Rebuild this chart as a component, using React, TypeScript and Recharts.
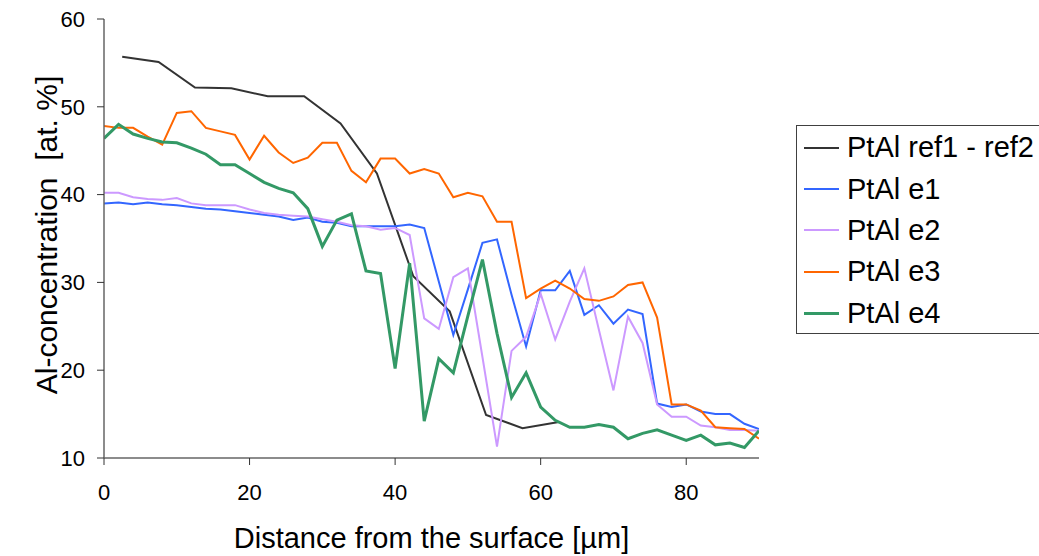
import React from 'react'
import { LineChart, Line, XAxis, YAxis, Legend, Label } from 'recharts'

// distances (µm) of the measured points
const distance = [
  0, 2, 4, 6, 8, 10, 12, 14, 16, 18, 20, 22, 24, 26, 28, 30, 32, 34, 36, 38, 40, 42, 44,
  46, 48, 50, 52, 54, 56, 58, 60, 62, 64, 66, 68, 70, 72, 74, 76, 78, 80, 82, 84, 86, 88, 90,
]
const refDistance = [2.5, 7.5, 12.5, 17.5, 22.5, 27.5, 32.5, 37.5, 42.5, 47.5, 52.5, 57.5, 62.5]

// Al concentration [at. %]
const ref = [55.7, 55.1, 52.2, 52.1, 51.2, 51.2, 48.1, 42.4, 30.7, 26.7, 14.9, 13.4, 14.1]
const e1 = [
  39.0, 39.1, 38.9, 39.1, 38.9, 38.8, 38.6, 38.4, 38.3, 38.1, 37.9, 37.7, 37.5, 37.1, 37.4, 36.9,
  36.8, 36.4, 36.4, 36.4, 36.4, 36.6, 36.2, 30.1, 24.0, 29.2, 34.5, 34.9, 28.6, 22.7, 29.1, 29.1,
  31.3, 26.3, 27.4, 25.3, 26.9, 26.4, 16.2, 15.8, 16.1, 15.3, 15.0, 15.0, 13.9, 13.3,
]
const e2 = [
  40.2, 40.2, 39.7, 39.5, 39.4, 39.6, 39.0, 38.8, 38.8, 38.8, 38.3, 37.9, 37.7, 37.6, 37.5, 37.2,
  36.9, 36.5, 36.4, 36.0, 36.2, 35.4, 25.9, 24.7, 30.6, 31.6, 21.5, 11.3, 22.2, 23.8, 28.7, 23.5,
  27.8, 31.6, 24.6, 17.7, 26.1, 23.1, 16.1, 14.7, 14.7, 13.7, 13.5, 13.2, 13.2, 13.1,
]
const e3 = [
  47.8, 47.6, 47.6, 46.6, 45.7, 49.3, 49.5, 47.6, 47.2, 46.8, 44.0, 46.7, 44.8, 43.6, 44.2, 45.9,
  45.9, 42.7, 41.4, 44.1, 44.1, 42.4, 42.9, 42.4, 39.7, 40.2, 39.8, 36.9, 36.9, 28.2, 29.3, 30.2,
  29.3, 28.1, 27.9, 28.4, 29.7, 30.0, 26.0, 16.1, 16.1, 15.4, 13.5, 13.4, 13.3, 12.2,
]
const e4 = [
  46.4, 48.0, 46.9, 46.4, 46.0, 45.9, 45.3, 44.6, 43.4, 43.4, 42.4, 41.4, 40.7, 40.2, 38.4, 34.1,
  37.1, 37.8, 31.3, 31.0, 20.2, 32.2, 14.2, 21.3, 19.7, 26.2, 32.6, 24.2, 16.9, 19.7, 15.8, 14.3,
  13.5, 13.5, 13.8, 13.5, 12.2, 12.8, 13.2, 12.6, 12.0, 12.6, 11.5, 11.7, 11.2, 13.1,
]

const xTicks = [0, 20, 40, 60, 80]
const yTicks = [10, 20, 30, 40, 50, 60]

const toPoints = (xs: number[], ys: number[]) => xs.map((x, i) => ({ x, y: ys[i] }))

const series = [
  { name: 'PtAl ref1 - ref2', color: '#333333', width: 2, data: toPoints(refDistance, ref) },
  { name: 'PtAl e1', color: '#3366FF', width: 2, data: toPoints(distance, e1) },
  { name: 'PtAl e2', color: '#CC99FF', width: 2, data: toPoints(distance, e2) },
  { name: 'PtAl e3', color: '#FF6600', width: 2, data: toPoints(distance, e3) },
  { name: 'PtAl e4', color: '#339966', width: 3, data: toPoints(distance, e4) },
]

const font = '"Liberation Sans", Arial, sans-serif'

const LegendBox = () => (
  <div
    style={{
      boxSizing: 'border-box',
      width: 250,
      height: 209,
      border: '1px solid #404040',
      background: '#fff',
      paddingTop: 1,
      fontFamily: font,
    }}
  >
    {series.map((s) => (
      <div key={s.name} style={{ display: 'flex', alignItems: 'center', height: 41.4 }}>
        <div style={{ width: 35, height: s.width, background: s.color, marginLeft: 7 }} />
        <span style={{ marginLeft: 8, fontSize: 29, color: '#000', whiteSpace: 'nowrap' }}>
          {s.name}
        </span>
      </div>
    ))}
  </div>
)

export default function App() {
  return (
    <div style={{ position: 'absolute', left: 0, top: 0, background: '#fff' }}>
      <LineChart
        width={1039}
        height={556}
        margin={{ top: 19, right: 280, left: 0, bottom: 0 }}
        style={{ fontFamily: font }}
      >
        {/* plot border (top / right) */}
        <XAxis
          xAxisId="top"
          orientation="top"
          type="number"
          domain={[0, 90]}
          ticks={[]}
          tick={false}
          height={0}
          axisLine={{ stroke: '#888888', strokeWidth: 1.5 }}
        />
        <YAxis
          yAxisId="right"
          orientation="right"
          type="number"
          domain={[10, 60]}
          tick={false}
          width={0}
          axisLine={{ stroke: '#888888', strokeWidth: 1.5 }}
        />
        <XAxis
          dataKey="x"
          type="number"
          domain={[0, 90]}
          ticks={xTicks}
          allowDataOverflow
          height={98}
          tickSize={7}
          tickMargin={19}
          axisLine={{ stroke: '#666666', strokeWidth: 1.5 }}
          tickLine={{ stroke: '#333333' }}
          tick={{ fill: '#000', fontSize: 22 }}
        >
          <Label
            content={({ viewBox }: any) => (
              <text
                x={viewBox.x + viewBox.width / 2}
                y={548}
                textAnchor="middle"
                fontSize={29}
                fill="#000"
                fontFamily={font}
              >
                Distance from the surface [µm]
              </text>
            )}
          />
        </XAxis>
        <YAxis
          type="number"
          domain={[10, 60]}
          ticks={yTicks}
          width={104}
          tickSize={7}
          tickMargin={12}
          axisLine={{ stroke: '#666666', strokeWidth: 1.5 }}
          tickLine={{ stroke: '#333333' }}
          tick={{ fill: '#000', fontSize: 22 }}
        >
          <Label
            content={() => (
              <text
                x={57}
                y={235}
                transform="rotate(-90 57 235)"
                textAnchor="middle"
                fontSize={30}
                fill="#000"
                fontFamily={font}
                style={{ whiteSpace: 'pre' }}
              >
                {'Al-concentration  [at. %]'}
              </text>
            )}
          />
        </YAxis>
        <Legend
          layout="vertical"
          align="center"
          verticalAlign="middle"
          wrapperStyle={{ left: 796, top: 125, width: 250, height: 209 }}
          content={() => <LegendBox />}
        />
        {series.map((s) => (
          <Line
            key={s.name}
            data={s.data}
            dataKey="y"
            name={s.name}
            type="linear"
            stroke={s.color}
            strokeWidth={s.width}
            dot={false}
            activeDot={false}
            isAnimationActive={false}
          />
        ))}
      </LineChart>
    </div>
  )
}
